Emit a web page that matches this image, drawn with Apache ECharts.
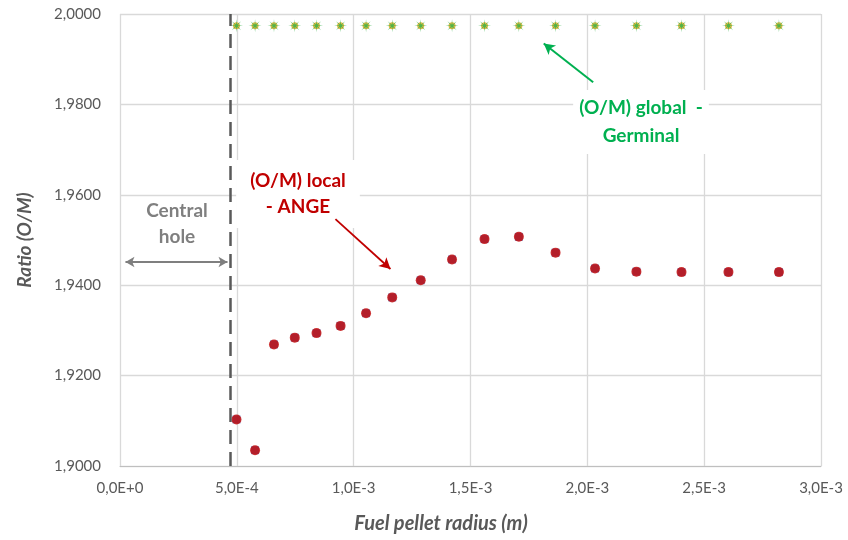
<!DOCTYPE html>
<html>
<head>
<meta charset="utf-8">
<script src="https://cdn.jsdelivr.net/npm/echarts@6/dist/echarts.min.js"></script>
<style>html,body{margin:0;padding:0;background:#fff}#c{width:848px;height:540px}</style>
</head>
<body>
<div id="c"></div>
<script>
// ---- data ----
const radius = [4.985e-4, 5.78e-4, 6.59e-4, 7.48e-4, 8.41e-4, 9.44e-4, 1.053e-3, 1.165e-3, 1.287e-3, 1.421e-3, 1.560e-3, 1.707e-3, 1.864e-3, 2.033e-3, 2.210e-3, 2.403e-3, 2.604e-3, 2.820e-3];
const omLocal = [1.9103, 1.9035, 1.9269, 1.9284, 1.9294, 1.9310, 1.9338, 1.9373, 1.9411, 1.9457, 1.9502, 1.9507, 1.9472, 1.9437, 1.9430, 1.9429, 1.9429, 1.9429];
const omGlobal = [1.9974, 1.9974, 1.9974, 1.9974, 1.9974, 1.9974, 1.9974, 1.9974, 1.9974, 1.9974, 1.9974, 1.9974, 1.9974, 1.9974, 1.9974, 1.9974, 1.9974, 1.9974];
const centralHoleRadius = 4.73e-4;
const xTitle = 'Fuel pellet radius (m)';
const yTitle = 'Ratio (O/M)';
const labelLocal = '(O/M) local\n- ANGE';
const labelGlobal = '(O/M) global  -\nGerminal';
const labelHole = 'Central\nhole';

const pair = (xs, ys) => xs.map((x, i) => [x, ys[i]]);

// asterisk symbol path
function starPath() {
  const n = 8, R = 10, r = 2.0;
  let d = '';
  for (let i = 0; i < 2 * n; i++) {
    const a = Math.PI * i / n - Math.PI / 2;
    const rad = i % 2 === 0 ? R : r;
    const x = 10 + rad * Math.cos(a), y = 10 + rad * Math.sin(a);
    d += (i === 0 ? 'M' : 'L') + x.toFixed(2) + ' ' + y.toFixed(2) + ' ';
  }
  return 'path://' + d + 'Z';
}

const FONT = 'Lato, "Open Sans", sans-serif';
const chart = echarts.init(document.getElementById('c'));
const gridGray = '#d9d9d9';

chart.setOption({
  animation: false,
  backgroundColor: '#fff',
  grid: { left: 120, right: 27, top: 14, bottom: 74 },
  xAxis: {
    type: 'value', min: 0, max: 3e-3, interval: 5e-4,
    axisLine: { show: true, lineStyle: { color: '#bfbfbf', width: 1 } },
    axisTick: { show: false },
    splitLine: { show: true, lineStyle: { color: gridGray, width: 1.3 } },
    axisLabel: {
      color: '#595959', fontSize: 15, fontFamily: FONT, margin: 15,
      formatter: v => {
        const s = (Math.round(v * 1e5) / 1e5).toExponential(1);
        return s.replace('.', ',').replace('e', 'E');
      }
    }
  },
  yAxis: {
    type: 'value', min: 1.9, max: 2.0, interval: 0.02,
    name: yTitle, nameLocation: 'middle', nameGap: 86,
    nameTextStyle: { color: '#595959', fontSize: 19, fontStyle: 'italic', fontWeight: 'bold', fontFamily: FONT },
    axisLine: { show: false },
    axisTick: { show: false },
    splitLine: { show: true, lineStyle: { color: gridGray, width: 1.3 } },
    axisLabel: {
      color: '#595959', fontSize: 15, fontFamily: FONT, margin: 19,
      formatter: v => v.toFixed(4).replace('.', ',')
    }
  },
  graphic: [
    { type: 'text', x: 441, y: 524, z: 1,
      style: { text: xTitle, align: 'center', verticalAlign: 'middle', fill: '#595959', font: 'italic bold 20px ' + FONT } },
    { type: 'text', x: 177, y: 224, z: 1,
      style: { text: labelHole, align: 'center', verticalAlign: 'middle', fill: '#7f7f7f', font: 'bold 19px ' + FONT, lineHeight: 26 } },
    { type: 'text', x: 298, y: 194, z: 1,
      style: { text: labelLocal, align: 'center', verticalAlign: 'middle', fill: '#c00000', font: 'bold 19px ' + FONT, lineHeight: 26,
               backgroundColor: '#fff', padding: [8, 14, 8, 14] } },
    { type: 'text', x: 641, y: 122, z: 1,
      style: { text: labelGlobal, align: 'center', verticalAlign: 'middle', fill: '#00b050', font: 'bold 19px ' + FONT, lineHeight: 28,
               backgroundColor: '#fff', padding: [4, 6, 4, 6] } }
  ],
  series: [
    {
      type: 'scatter', name: 'annotations', data: [], silent: true,
      markLine: {
        silent: true, animation: false, label: { show: false },
        data: [
          [ { coord: [centralHoleRadius, 1.9], symbol: 'none', lineStyle: { color: '#595959', width: 2.5, type: [14, 8] } },
            { coord: [centralHoleRadius, 2.0], symbol: 'none' } ],
          [ { coord: [2.35e-5, 1.94514], symbol: 'arrow', symbolSize: [8, 9], lineStyle: { color: '#7f7f7f', width: 2, type: 'solid' }, itemStyle: { color: '#7f7f7f' } },
            { coord: [4.6e-4, 1.94514], symbol: 'arrow', symbolSize: [8, 9] } ],
          [ { coord: [9.22e-4, 1.95462], symbol: 'none', lineStyle: { color: '#c00000', width: 1.8, type: 'solid' }, itemStyle: { color: '#c00000' } },
            { coord: [1.1575e-3, 1.94359], symbol: 'arrow', symbolSize: [9, 11] } ],
          [ { coord: [2.025e-3, 1.98489], symbol: 'none', lineStyle: { color: '#00b050', width: 2, type: 'solid' }, itemStyle: { color: '#00b050' } },
            { coord: [1.8134e-3, 1.99349], symbol: 'arrow', symbolSize: [9, 11] } ]
        ]
      }
    },
    { type: 'scatter', name: 'global-center', data: pair(radius, omGlobal), symbol: 'circle', symbolSize: 7,
      itemStyle: { color: '#e6a817' }, z: 3 },
    { type: 'scatter', name: '(O/M) global - Germinal', data: pair(radius, omGlobal), symbol: starPath(), symbolSize: 13,
      itemStyle: { color: '#34b34a', opacity: 0.85 }, z: 4 },
    { type: 'scatter', name: 'local-square', data: pair(radius, omLocal), symbol: 'rect', symbolSize: 8,
      itemStyle: { color: '#5b7bc4' }, z: 3 },
    { type: 'scatter', name: '(O/M) local - ANGE', data: pair(radius, omLocal), symbol: 'circle', symbolSize: 10,
      itemStyle: { color: '#c00000' }, z: 4 }
  ]
});
</script>
</body>
</html>
